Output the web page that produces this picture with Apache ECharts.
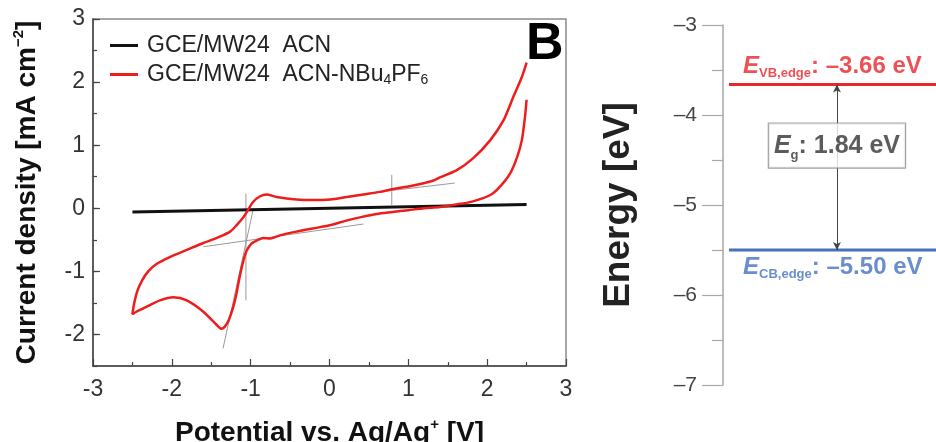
<!DOCTYPE html>
<html>
<head>
<meta charset="utf-8">
<script src="https://cdn.jsdelivr.net/npm/echarts@6/dist/echarts.min.js"></script>
<style>
  html, body { margin: 0; padding: 0; background: #fff; }
  #chart { width: 936px; height: 442px; }
</style>
</head>
<body>
<div id="chart"></div>
<script>
// ---- Cyclic voltammogram of GCE/MW24 in ACN-NBu4PF6 (V vs Ag/Ag+, mA cm^-2) ----
// Scan starts at +2.5 V, sweeps down to -2.5 V and returns to +2.5 V.
const cvPotential = [
  2.50, 2.48, 2.44, 2.38, 2.29, 2.16, 2.04, 1.82, 1.61, 1.40, 1.20, 1.00, 0.80, 0.60,
  0.40, 0.20, 0.00, -0.21, -0.42, -0.63, -0.75, -0.84, -0.92, -0.99, -1.05, -1.09,
  -1.14, -1.18, -1.22, -1.28, -1.33, -1.37, -1.43, -1.60, -1.81, -1.98, -2.15, -2.32,
  -2.45, -2.50,
  -2.48, -2.44, -2.38, -2.30, -2.19, -2.02, -1.81, -1.60, -1.39, -1.26, -1.18, -1.09, -1.03,
  -0.97, -0.88, -0.80, -0.67, -0.42, -0.21, 0.01, 0.22, 0.43, 0.64, 0.79, 1.06, 1.32,
  1.40, 1.61, 1.82, 2.04, 2.21, 2.33, 2.44, 2.50
];
const cvCurrent = [
  1.72, 1.45, 1.08, 0.81, 0.55, 0.34, 0.21, 0.11, 0.06, 0.02, 0.00, -0.03, -0.06, -0.09,
  -0.14, -0.20, -0.27, -0.32, -0.37, -0.43, -0.48, -0.47, -0.51, -0.56, -0.67, -0.82,
  -1.09, -1.35, -1.56, -1.78, -1.88, -1.91, -1.85, -1.64, -1.46, -1.41, -1.46, -1.56,
  -1.64, -1.68,
  -1.52, -1.32, -1.15, -1.00, -0.88, -0.77, -0.66, -0.55, -0.45, -0.37, -0.27, -0.14, -0.02,
  0.10, 0.19, 0.22, 0.18, 0.14, 0.13, 0.14, 0.18, 0.22, 0.26, 0.30, 0.36, 0.44,
  0.49, 0.60, 0.79, 1.08, 1.40, 1.76, 2.08, 2.31
];

// ---- Blank electrode in ACN ----
const acnPotential = [-2.5, 0.0, 2.5];
const acnCurrent = [-0.06, 0.0, 0.06];

// ---- Onset construction lines (potential, current) ----
const reductionMarker = [[-1.06, 0.23], [-1.06, -1.46]];
const reductionSlope = [[-1.35, -2.22], [-0.97, -0.03]];
const reductionBaseline = [[-1.60, -0.61], [0.43, -0.25]];
const oxidationMarker = [[0.79, 0.53], [0.79, 0.05]];
const oxidationBaseline = [[0.50, 0.24], [1.59, 0.40]];

// ---- Axis ticks ----
const potentialTicks = [-3, -2, -1, 0, 1, 2, 3];
const currentTicks = [-2, -1, 0, 1, 2, 3];
const energyTicks = [-7, -6, -5, -4, -3];

// ---- Band edges (eV) ----
const vbEdge = -3.66;
const cbEdge = -5.50;

const seriesNames = ['GCE/MW24  ACN', 'GCE/MW24  ACN-NBu4PF6'];

// ---------------------------------------------------------------
const FONT = 'Liberation Sans, Arial, Helvetica, sans-serif';
const RED = '#ef1c1c';
const LEVEL_RED = '#e8262b';
const LEVEL_BLUE = '#4471c0';
const zip = (xs, ys) => xs.map((x, i) => [x, ys[i]]);
const dash = v => (v < 0 ? '\u2013' + Math.abs(v).toFixed(2) : v.toFixed(2));
const bandGap = vbEdge - cbEdge;

const arrowX = 0.535;      // horizontal position of the band-gap arrow inside the level panel
const labelX = 0.094;      // left edge of the level captions
const gapBoxY = -4.34;     // vertical centre of the band-gap box

const guide = data => ({
  type: 'line', xAxisIndex: 0, yAxisIndex: 0, data, silent: true,
  showSymbol: false, lineStyle: { color: '#9a9a9a', width: 1 }, z: 1
});

const chart = echarts.init(document.getElementById('chart'), null, { renderer: 'canvas' });

chart.setOption({
  animation: false,
  textStyle: { fontFamily: FONT },
  grid: [
    { left: 93, top: 19, width: 473, height: 347, show: true, borderColor: '#8a8a8a', borderWidth: 1.5,
      containLabel: false, outerBoundsMode: 'none' },
    { left: 723, top: 25, width: 213, height: 360, containLabel: false, outerBoundsMode: 'none' }
  ],
  legend: [
    {
      data: [seriesNames[0]], left: 105, top: 29, icon: 'rect', itemWidth: 28, itemHeight: 3,
      selectedMode: false,
      textStyle: { fontSize: 23, color: '#222', fontFamily: FONT, padding: [0, 0, 0, 4] }
    },
    {
      data: [seriesNames[1]], left: 105, top: 58, icon: 'rect', itemWidth: 28, itemHeight: 3,
      selectedMode: false,
      formatter: () => '{t|GCE/MW24  ACN-NBu}{s|4}{t|PF}{s|6}',
      textStyle: {
        fontSize: 23, color: '#222', fontFamily: FONT, padding: [0, 0, 0, 4],
        rich: {
          t: { fontSize: 23, color: '#222', fontFamily: FONT, lineHeight: 26 },
          s: { fontSize: 14, color: '#222', fontFamily: FONT, lineHeight: 14, verticalAlign: 'bottom' }
        }
      }
    }
  ],
  xAxis: [
    {
      type: 'value', gridIndex: 0, min: potentialTicks[0], max: potentialTicks[potentialTicks.length - 1],
      interval: 1,
      axisLine: { onZero: false, lineStyle: { color: '#444', width: 1.5 } },
      axisTick: { inside: true, length: 7, lineStyle: { color: '#444', width: 1.2 } },
      minorTick: { show: true, splitNumber: 2, length: 4, lineStyle: { color: '#444', width: 1.2 } },
      splitLine: { show: false },
      axisLabel: { fontSize: 23, color: '#333', margin: 12, fontFamily: FONT, formatter: v => String(v) },
      name: '{t|Potential vs. Ag/Ag}{p|+}{t| [V]}',
      nameLocation: 'middle', nameGap: 51,
      nameTextStyle: {
        rich: {
          t: { fontSize: 28, fontWeight: 'bold', color: '#111', fontFamily: FONT, lineHeight: 32 },
          p: { fontSize: 15, fontWeight: 'bold', color: '#111', fontFamily: FONT, lineHeight: 15, verticalAlign: 'top' }
        }
      }
    },
    { type: 'value', gridIndex: 1, min: 0, max: 1, show: false }
  ],
  yAxis: [
    {
      type: 'value', gridIndex: 0, position: 'left', min: -2.5, max: 3, interval: 0.5,
      axisLine: { onZero: false, lineStyle: { color: '#444', width: 1.5 } },
      axisTick: { inside: true, length: 7, customValues: currentTicks, lineStyle: { color: '#444', width: 1.2 } },
      splitLine: { show: false },
      axisLabel: {
        fontSize: 23, color: '#333', margin: 8, fontFamily: FONT, customValues: currentTicks,
        formatter: v => (Number.isInteger(v) ? String(v) : '')
      },
      name: '{t|Current density [mA cm}{p|\u22122}{t|]}',
      nameLocation: 'middle', nameGap: 50, nameRotate: 90,
      nameTextStyle: {
        rich: {
          t: { fontSize: 28, fontWeight: 'bold', color: '#111', fontFamily: FONT, lineHeight: 32 },
          p: { fontSize: 15, fontWeight: 'bold', color: '#111', fontFamily: FONT, lineHeight: 15, verticalAlign: 'top' }
        }
      }
    },
    {
      // half-unit minor ticks on the current-density axis
      type: 'value', gridIndex: 0, position: 'left', min: -2.5, max: 3, interval: 0.5,
      axisLine: { show: false, onZero: false },
      axisTick: { inside: true, length: 4, lineStyle: { color: '#444', width: 1.2 } },
      axisLabel: { show: false },
      splitLine: { show: false }
    },
    {
      type: 'value', gridIndex: 1, position: 'left',
      min: energyTicks[0], max: energyTicks[energyTicks.length - 1], interval: 1,
      axisLine: { onZero: false, lineStyle: { color: '#a8a8a8', width: 1.5 } },
      axisTick: { length: 21, lineStyle: { color: '#a8a8a8', width: 1.2 } },
      minorTick: { show: true, splitNumber: 2, length: 11, lineStyle: { color: '#a8a8a8', width: 1.2 } },
      splitLine: { show: false },
      axisLabel: { fontSize: 21, color: '#444', margin: 26, fontFamily: FONT, formatter: v => '\u2013' + Math.abs(v) },
      name: 'Energy [eV]', nameLocation: 'middle', nameGap: 86, nameRotate: 90,
      nameTextStyle: { fontSize: 37, fontWeight: 'bold', color: '#222', fontFamily: FONT }
    }
  ],
  graphic: [
    { type: 'text', left: 526, top: 19, style: { text: 'B', font: 'bold 52px ' + FONT, fill: '#000' } }
  ],
  series: [
    guide(reductionMarker),
    guide(reductionSlope),
    guide(reductionBaseline),
    guide(oxidationMarker),
    guide(oxidationBaseline),
    {
      name: seriesNames[0], type: 'line', xAxisIndex: 0, yAxisIndex: 0,
      data: zip(acnPotential, acnCurrent), showSymbol: false,
      itemStyle: { color: '#111' }, lineStyle: { color: '#111', width: 3 }, z: 2
    },
    {
      name: seriesNames[1], type: 'line', xAxisIndex: 0, yAxisIndex: 0,
      data: zip(cvPotential, cvCurrent), showSymbol: false, smooth: 0.25,
      itemStyle: { color: RED }, lineStyle: { color: RED, width: 2.5 }, z: 3
    },
    {
      type: 'line', xAxisIndex: 1, yAxisIndex: 2, silent: true, showSymbol: false,
      data: [[0.028, vbEdge], [1, vbEdge]],
      lineStyle: { color: LEVEL_RED, width: 3 },
      markLine: {
        silent: true, symbol: ['arrow', 'arrow'], symbolSize: [6, 8], animation: false,
        label: { show: false },
        lineStyle: { color: '#444', width: 1, type: 'solid' },
        data: [[{ coord: [arrowX, vbEdge] }, { coord: [arrowX, cbEdge] }]]
      }
    },
    {
      type: 'line', xAxisIndex: 1, yAxisIndex: 2, silent: true, showSymbol: false,
      data: [[0.028, cbEdge], [1, cbEdge]],
      lineStyle: { color: LEVEL_BLUE, width: 3 }
    },
    {
      type: 'scatter', xAxisIndex: 1, yAxisIndex: 2, silent: true, symbolSize: 0, z: 10,
      data: [
        {
          value: [labelX, vbEdge],
          label: {
            show: true, position: [0, 0], align: 'left', verticalAlign: 'bottom', offset: [0, -4],
            formatter: '{e|E}{s|VB,edge}{t|: ' + dash(vbEdge) + ' eV}',
            rich: {
              e: { fontSize: 24, fontWeight: 'bold', fontStyle: 'italic', color: LEVEL_RED, fontFamily: FONT, lineHeight: 28 },
              s: { fontSize: 13, fontWeight: 'bold', color: LEVEL_RED, fontFamily: FONT, lineHeight: 13, verticalAlign: 'bottom' },
              t: { fontSize: 24, fontWeight: 'bold', color: LEVEL_RED, fontFamily: FONT, lineHeight: 28 }
            }
          }
        },
        {
          value: [labelX, cbEdge],
          label: {
            show: true, position: [0, 0], align: 'left', verticalAlign: 'top', offset: [0, 3],
            formatter: '{e|E}{s|CB,edge}{t|: ' + dash(cbEdge) + ' eV}',
            rich: {
              e: { fontSize: 24, fontWeight: 'bold', fontStyle: 'italic', color: LEVEL_BLUE, fontFamily: FONT, lineHeight: 28 },
              s: { fontSize: 13, fontWeight: 'bold', color: LEVEL_BLUE, fontFamily: FONT, lineHeight: 13, verticalAlign: 'bottom' },
              t: { fontSize: 24, fontWeight: 'bold', color: LEVEL_BLUE, fontFamily: FONT, lineHeight: 28 }
            }
          }
        },
        {
          value: [arrowX, gapBoxY],
          label: {
            show: true, position: 'inside',
            formatter: '{e|E}{s|g}{t|: ' + bandGap.toFixed(2) + ' eV}',
            backgroundColor: '#fff', borderColor: '#8c8c8c', borderWidth: 1.2, padding: [8, 5, 6, 5],
            rich: {
              e: { fontSize: 25, fontWeight: 'bold', fontStyle: 'italic', color: '#333', fontFamily: FONT, lineHeight: 30 },
              s: { fontSize: 13, fontWeight: 'bold', color: '#333', fontFamily: FONT, lineHeight: 13, verticalAlign: 'bottom' },
              t: { fontSize: 25, fontWeight: 'bold', color: '#333', fontFamily: FONT, lineHeight: 30 }
            }
          }
        }
      ]
    }
  ]
});
</script>
</body>
</html>
